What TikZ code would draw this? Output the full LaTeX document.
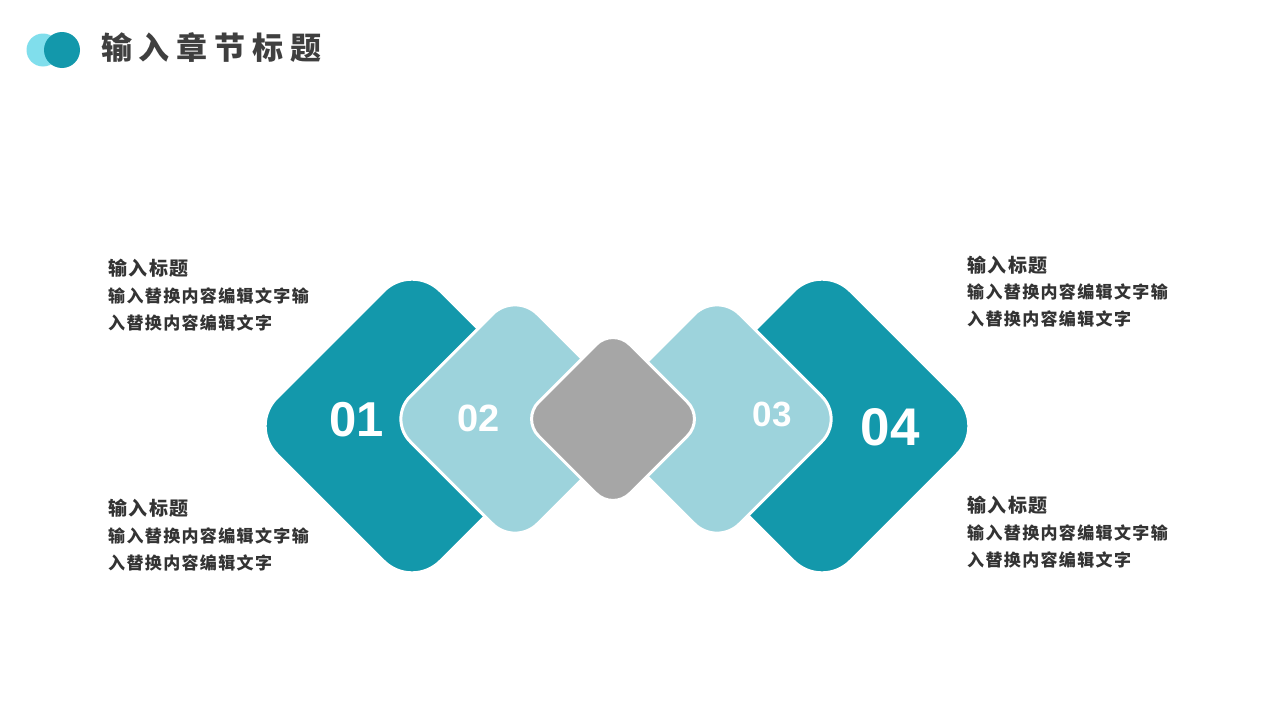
\documentclass[tikz,border=0pt]{standalone}
\usepackage{fontspec}
\usetikzlibrary{shapes.geometric}
\newfontfamily\cjk{Noto Sans CJK SC}
\newfontfamily\numfont{Liberation Sans}
\definecolor{darkteal}{HTML}{1398AB}
\definecolor{lightteal}{HTML}{9DD3DC}
\definecolor{midgray}{HTML}{A6A6A6}
\definecolor{lightcyan}{HTML}{80DEEC}
\definecolor{txt}{HTML}{333333}
\definecolor{ttl}{HTML}{3F3F3F}
\tikzset{
  rdia/.style={diamond, aspect=1, inner sep=0pt, draw=white, line width=3pt},
  numtext/.style={text=white, font=\numfont\bfseries, inner sep=0pt},
  headtext/.style={anchor=west, inner sep=0pt, text=txt, font=\cjk\bfseries\fontsize{19}{19}\selectfont\addfontfeatures{LetterSpace=8}},
  bodytext/.style={anchor=west, inner sep=0pt, text=txt, font=\cjk\bfseries\fontsize{17}{17}\selectfont\addfontfeatures{LetterSpace=8}},
}
\begin{document}
\begin{tikzpicture}[x=1pt,y=-1pt]
\useasboundingbox[fill=white] (0,0) rectangle (1280,720);
% header
\node[circle, fill=lightcyan, minimum size=33pt, inner sep=0pt] (c1) at (43,50) {};
\node[circle, fill=darkteal, minimum size=36pt, inner sep=0pt] (c2) at (62,50) {};
\node[anchor=west, inner sep=0pt, text=ttl, font=\cjk\bfseries\fontsize{31}{31}\selectfont\addfontfeatures{LetterSpace=22}] (title) at (101,48) {输入章节标题};
% diamonds
\node[rdia, fill=darkteal, minimum size=328pt, rounded corners=40pt] (s1) at (412,426) {};
\node[rdia, fill=darkteal, minimum size=328pt, rounded corners=40pt] (s4) at (822,426) {};
\node[rdia, fill=lightteal, minimum size=256pt, rounded corners=32pt] (s2) at (515,419) {};
\node[rdia, fill=lightteal, minimum size=256pt, rounded corners=32pt] (s3) at (717,419) {};
\node[rdia, fill=midgray, minimum size=184pt, rounded corners=24pt] (sg) at (613,419) {};
% numbers
\node[numtext, font=\numfont\bfseries\fontsize{49}{49}\selectfont] (n1) at (357,420) {01};
\node[numtext, font=\numfont\bfseries\fontsize{38}{38}\selectfont] (n2) at (479,418) {02};
\node[numtext, font=\numfont\bfseries\fontsize{35}{35}\selectfont] (n3) at (772,414) {03};
\node[numtext, font=\numfont\bfseries\fontsize{53}{53}\selectfont] (n4) at (890,427) {04};
% text blocks
\node[headtext] (h1) at (108,268) {输入标题};
\node[bodytext] (b1a) at (108,296) {输入替换内容编辑文字输};
\node[bodytext] (b1b) at (108,323) {入替换内容编辑文字};
\node[headtext] (h2) at (108,508) {输入标题};
\node[bodytext] (b2a) at (108,536) {输入替换内容编辑文字输};
\node[bodytext] (b2b) at (108,563) {入替换内容编辑文字};
\node[headtext] (h3) at (967,265) {输入标题};
\node[bodytext] (b3a) at (967,292) {输入替换内容编辑文字输};
\node[bodytext] (b3b) at (967,319) {入替换内容编辑文字};
\node[headtext] (h4) at (967,505) {输入标题};
\node[bodytext] (b4a) at (967,533) {输入替换内容编辑文字输};
\node[bodytext] (b4b) at (967,560) {入替换内容编辑文字};
\end{tikzpicture}
\end{document}
